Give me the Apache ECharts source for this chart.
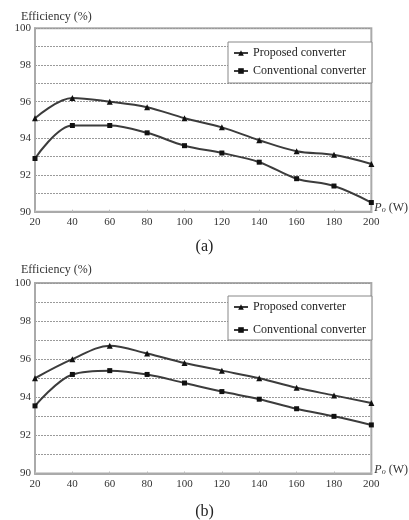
<!DOCTYPE html>
<html>
<head>
<meta charset="utf-8">
<script src="https://cdn.jsdelivr.net/npm/echarts@6/dist/echarts.min.js"></script>
<style>
html,body{margin:0;padding:0;background:#fff;}
#c{width:409px;height:520px;}
</style>
</head>
<body>
<div id="c"></div>
<script>
// Data
const powerW = [20, 40, 60, 80, 100, 120, 140, 160, 180, 200];
const proposedA = [95.1, 96.2, 96.0, 95.7, 95.1, 94.6, 93.9, 93.3, 93.1, 92.6];
const conventionalA = [92.9, 94.7, 94.7, 94.3, 93.6, 93.2, 92.7, 91.8, 91.4, 90.5];
const proposedB = [95.0, 96.0, 96.7, 96.3, 95.8, 95.4, 95.0, 94.5, 94.1, 93.7];
const conventionalB = [93.55, 95.2, 95.4, 95.2, 94.75, 94.3, 93.9, 93.4, 93.0, 92.55];
const seriesNames = ['Proposed converter', 'Conventional converter'];
const yTitle = 'Efficiency (%)';
const panelLabels = ['(a)', '(b)'];

const FONT = '"Liberation Serif", "DejaVu Serif", serif';
const pairs = (ys) => powerW.map((x, i) => [x, ys[i]]);

function xAxisFor(gi) {
  return {
    type: 'value', gridIndex: gi, min: 20, max: 200, interval: 20,
    axisLine: { show: true, lineStyle: { color: '#aaa', width: 2 } },
    axisTick: { show: true, inside: true, length: 2, lineStyle: { color: '#bbb' } },
    axisLabel: { color: '#333', fontFamily: FONT, fontSize: 11, margin: 5 },
    splitLine: { show: false },
    name: '{p|P}{s|o}{n| (W)}',
    nameLocation: 'end', nameGap: 3,
    nameTextStyle: {
      verticalAlign: 'middle', padding: [0, 0, 7, 0],
      rich: {
        p: { fontFamily: FONT, fontStyle: 'italic', fontSize: 12, color: '#333' },
        s: { fontFamily: FONT, fontStyle: 'italic', fontSize: 8, color: '#333', verticalAlign: 'bottom', padding: [4, 0, 0, 0] },
        n: { fontFamily: FONT, fontSize: 12, color: '#333' }
      }
    }
  };
}
function yAxisFor(gi) {
  return {
    type: 'value', gridIndex: gi, min: 90, max: 100, interval: 1,
    axisLine: { show: true, lineStyle: { color: '#aaa', width: 2 } },
    axisTick: { show: false },
    axisLabel: { color: '#333', fontFamily: FONT, fontSize: 11, margin: 4,
      formatter: (v) => (v % 2 === 0 ? String(v) : '') },
    splitLine: { show: true, lineStyle: { type: [2, 1], color: '#9a9a9a', width: 1 } }
  };
}
function lineSeries(name, ys, gi, symbol, size) {
  return {
    name: name, type: 'line', xAxisIndex: gi, yAxisIndex: gi,
    data: pairs(ys), smooth: 0.35,
    symbol: symbol, symbolSize: size,
    lineStyle: { color: '#3c3c3c', width: 2 },
    itemStyle: { color: '#111' },
    emphasis: { disabled: true }
  };
}
function legendFor(top, gap, pad) {
  return {
    data: seriesNames, orient: 'vertical', left: 228, top: top,
    itemGap: gap, itemWidth: 14, itemHeight: 7,
    padding: pad, borderColor: '#888', borderWidth: 1, backgroundColor: '#fff',
    textStyle: { fontFamily: FONT, fontSize: 12, color: '#222' }
  };
}

const chart = echarts.init(document.getElementById('c'), null, { renderer: 'canvas' });
chart.setOption({
  animation: false,
  backgroundColor: '#fff',
  title: [
    { text: yTitle, left: 16, top: 6, textStyle: { fontFamily: FONT, fontSize: 12, fontWeight: 'normal', color: '#333' } },
    { text: panelLabels[0], left: 'center', top: 234, textStyle: { fontFamily: FONT, fontSize: 16, fontWeight: 'normal', color: '#222' } },
    { text: yTitle, left: 16, top: 259, textStyle: { fontFamily: FONT, fontSize: 12, fontWeight: 'normal', color: '#333' } },
    { text: panelLabels[1], left: 'center', top: 499, textStyle: { fontFamily: FONT, fontSize: 16, fontWeight: 'normal', color: '#222' } }
  ],
  legend: [legendFor(42, 6, [5, 6, 6, 5]), legendFor(296, 11, [5, 6, 4, 5])],
  grid: [
    { left: 35, top: 28.3, width: 340, height: 183.4, show: true, borderColor: '#aaa', borderWidth: 2, backgroundColor: 'transparent' },
    { left: 35, top: 283, width: 340, height: 190.5, show: true, borderColor: '#aaa', borderWidth: 2, backgroundColor: 'transparent' }
  ],
  xAxis: [xAxisFor(0), xAxisFor(1)],
  yAxis: [yAxisFor(0), yAxisFor(1)],
  series: [
    lineSeries(seriesNames[0], proposedA, 0, 'triangle', 6),
    lineSeries(seriesNames[1], conventionalA, 0, 'rect', 5),
    lineSeries(seriesNames[0], proposedB, 1, 'triangle', 6),
    lineSeries(seriesNames[1], conventionalB, 1, 'rect', 5)
  ]
});
</script>
</body>
</html>
